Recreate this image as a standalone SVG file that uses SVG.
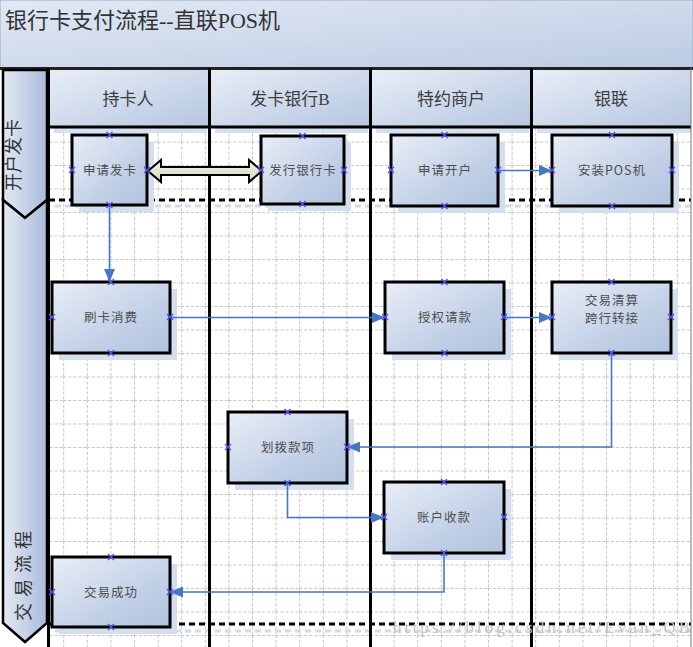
<svg xmlns="http://www.w3.org/2000/svg" xmlns:xlink="http://www.w3.org/1999/xlink" width="693" height="647" viewBox="0 0 693 647">
<defs>
<linearGradient id="titleG" x1="0" y1="0" x2="1" y2="1"><stop offset="0" stop-color="#e2e9f4"/><stop offset="1" stop-color="#bccbe3"/></linearGradient>
<linearGradient id="headG" x1="0" y1="0" x2="1" y2="1"><stop offset="0" stop-color="#e8eef7"/><stop offset="1" stop-color="#b5c6e0"/></linearGradient>
<linearGradient id="bandG" x1="0" y1="0" x2="1" y2="0"><stop offset="0" stop-color="#e2e9f4"/><stop offset="1" stop-color="#aabcdb"/></linearGradient>
<linearGradient id="nodeG" x1="0" y1="0" x2="1" y2="1"><stop offset="0" stop-color="#e9eef7"/><stop offset="0.6" stop-color="#c3d1e7"/><stop offset="1" stop-color="#b0c2de"/></linearGradient>
<linearGradient id="dblG" x1="0" y1="0" x2="0" y2="1"><stop offset="0" stop-color="#eef0e2"/><stop offset="1" stop-color="#d6dbbf"/></linearGradient>
<pattern id="grid" patternUnits="userSpaceOnUse" x="16" y="24" width="23.6" height="23.5">
<path d="M0.5,0 V23.5 M0,0.5 H23.6" stroke="#c4c4c4" stroke-width="1" stroke-dasharray="3,2" fill="none"/>
</pattern>
<marker id="ah" markerUnits="userSpaceOnUse" markerWidth="13" markerHeight="11" refX="13" refY="5.5" orient="auto"><path d="M0,0 L13,5.5 L0,11 z" fill="#4677c2"/></marker>
<path id="xm" d="M-3,-3 L3,3 M-3,3 L3,-3" stroke="#5050f0" stroke-width="1.4" fill="none"/>
<style>
.nb{fill:url(#nodeG);stroke:#000;stroke-width:3}
.sh{fill:#d3deef}
.nt{font-family:"Noto Sans CJK SC","Liberation Serif",sans-serif;font-size:12.5px;fill:#4e4e4e;text-anchor:middle;letter-spacing:1px}
.ht{font-family:"Liberation Serif","Noto Sans CJK SC",serif;font-size:17px;fill:#3c3c3c;text-anchor:middle}
.lane{stroke:#000;stroke-width:3}
.con{fill:none;stroke:#4677c2;stroke-width:1.6}
.dot{stroke:#000;stroke-width:3;stroke-dasharray:6,4}
.dotsh{stroke:#cfdcf0;stroke-width:3;stroke-dasharray:6,4}
.bt{font-family:"Noto Sans CJK SC",sans-serif;font-size:18px;fill:#333;text-anchor:middle}
</style>
</defs>

<rect width="693" height="647" fill="#ffffff"/>

<!-- title -->
<g id="title">
<rect x="0" y="0" width="693" height="68" fill="url(#titleG)" stroke="#9aa9c0" stroke-width="1"/>
<line x1="0" y1="68.5" x2="693" y2="68.5" stroke="#222" stroke-width="3"/>
<text x="5" y="28" font-family="Liberation Serif, 'Noto Sans CJK SC', serif" font-size="22" fill="#333">银行卡支付流程--直联POS机</text>
</g>

<!-- grid area -->
<rect x="49" y="128" width="642" height="519" fill="url(#grid)"/>

<!-- header -->
<g id="headers">
<rect x="54" y="127" width="153" height="6" fill="#d6e0f0"/>
<rect x="215" y="127" width="153" height="6" fill="#d6e0f0"/>
<rect x="376" y="127" width="153" height="6" fill="#d6e0f0"/>
<rect x="537" y="127" width="154" height="6" fill="#d6e0f0"/>
<rect x="49" y="70" width="160" height="57" fill="url(#headG)"/>
<rect x="210" y="70" width="160" height="57" fill="url(#headG)"/>
<rect x="371" y="70" width="160" height="57" fill="url(#headG)"/>
<rect x="532" y="70" width="159" height="57" fill="url(#headG)"/>
<line x1="48" y1="127" x2="691" y2="127" stroke="#000" stroke-width="3"/>
<text class="ht" x="128" y="105">持卡人</text>
<text class="ht" x="290" y="105">发卡银行B</text>
<text class="ht" x="451" y="105">特约商户</text>
<text class="ht" x="611" y="105">银联</text>
</g>

<!-- phase band -->
<g id="phase1">
<polygon points="3,70 47,70 47,200 25,218 3,200" fill="url(#bandG)" stroke="#000" stroke-width="2.5"/>
<text class="bt" transform="translate(14,155) rotate(-90)" y="6">开户发卡</text>
</g>
<g id="phase2">
<polygon points="3,200 25,218 47,200 47,623 25,642 3,623" fill="url(#bandG)" stroke="#000" stroke-width="2.5"/>
<text class="bt" transform="translate(23,573) rotate(-90)" y="7" letter-spacing="6">交易流程</text>
</g>

<!-- dotted separators -->
<g id="separators">
<line class="dotsh" x1="55" y1="206" x2="691" y2="206"/>
<line class="dot" x1="49" y1="200" x2="691" y2="200"/>
<line class="dotsh" x1="55" y1="631" x2="691" y2="631"/>
<line class="dot" x1="49" y1="624" x2="691" y2="624"/>
</g>

<!-- lanes -->
<g id="lanes">
<line class="lane" x1="48.5" y1="68" x2="48.5" y2="647"/>
<line class="lane" x1="209.5" y1="68" x2="209.5" y2="647"/>
<line class="lane" x1="370.5" y1="68" x2="370.5" y2="647"/>
<line class="lane" x1="531.5" y1="68" x2="531.5" y2="647"/>
<line x1="691" y1="68" x2="691" y2="647" stroke="#777" stroke-width="1"/>
</g>

<text x="393" y="633" font-family="Liberation Serif, serif" font-size="17" fill="#c4c4c4" textLength="297" lengthAdjust="spacing">https://blog.csdn.net/Evan_QB</text>

<!-- nodes -->
<g id="n1"><rect class="sh" x="79" y="142" width="75" height="70"/><rect class="nb" x="72" y="135" width="75" height="70"/><text class="nt" x="110" y="175">申请发卡</text></g>
<g id="n2"><rect class="sh" x="268" y="143" width="83" height="68"/><rect class="nb" x="261" y="136" width="83" height="68"/><text class="nt" x="303" y="175">发行银行卡</text></g>
<g id="n3"><rect class="sh" x="398" y="142" width="107" height="71"/><rect class="nb" x="391" y="135" width="107" height="71"/><text class="nt" x="445" y="175">申请开户</text></g>
<g id="n4"><rect class="sh" x="559" y="142" width="120" height="71"/><rect class="nb" x="552" y="135" width="120" height="71"/><text class="nt" x="612" y="175">安装POS机</text></g>
<g id="n5"><rect class="sh" x="59" y="289" width="118" height="71"/><rect class="nb" x="52" y="282" width="118" height="71"/><text class="nt" x="111" y="322">刷卡消费</text></g>
<g id="n6"><rect class="sh" x="392" y="289" width="119" height="71"/><rect class="nb" x="385" y="282" width="119" height="71"/><text class="nt" x="445" y="322">授权请款</text></g>
<g id="n7"><rect class="sh" x="559" y="289" width="119" height="71"/><rect class="nb" x="552" y="282" width="119" height="71"/><text class="nt" x="612" y="305">交易清算</text><text class="nt" x="612" y="323">跨行转接</text></g>
<g id="n8"><rect class="sh" x="235" y="419" width="119" height="71"/><rect class="nb" x="228" y="412" width="119" height="71"/><text class="nt" x="288" y="452">划拨款项</text></g>
<g id="n9"><rect class="sh" x="391" y="489" width="120" height="71"/><rect class="nb" x="384" y="482" width="120" height="71"/><text class="nt" x="444" y="522">账户收款</text></g>
<g id="n10"><rect class="sh" x="59" y="564" width="118" height="70"/><rect class="nb" x="52" y="557" width="118" height="70"/><text class="nt" x="111" y="597">交易成功</text></g>

<!-- connectors -->
<g id="connectors">
<polygon points="148,171 161,160 161,167 249,167 249,160 262,171 249,182 249,175 161,175 161,182" fill="url(#dblG)" stroke="#000" stroke-width="2"/>
<path class="con" d="M498,170.5 H552" marker-end="url(#ah)"/>
<path class="con" d="M109.5,205 V282" marker-end="url(#ah)"/>
<path class="con" d="M170,317.5 H385" marker-end="url(#ah)"/>
<path class="con" d="M504,317.5 H552" marker-end="url(#ah)"/>
<path class="con" d="M611.5,353 V447 H347" marker-end="url(#ah)"/>
<path class="con" d="M287.5,483 V517.5 H384" marker-end="url(#ah)"/>
<path class="con" d="M444,553 V592 H170" marker-end="url(#ah)"/>
</g>

<!-- connection points -->
<g id="points">
<use href="#xm" x="109.5" y="135"/><use href="#xm" x="109.5" y="205"/><use href="#xm" x="72" y="170"/><use href="#xm" x="147" y="170"/>
<use href="#xm" x="302.5" y="136"/><use href="#xm" x="302.5" y="204"/><use href="#xm" x="261" y="170"/><use href="#xm" x="344" y="170"/>
<use href="#xm" x="444.5" y="135"/><use href="#xm" x="444.5" y="206"/><use href="#xm" x="391" y="170"/><use href="#xm" x="498" y="170"/>
<use href="#xm" x="612" y="135"/><use href="#xm" x="612" y="206"/><use href="#xm" x="552" y="170"/><use href="#xm" x="672" y="170"/>
<use href="#xm" x="111" y="282"/><use href="#xm" x="111" y="353"/><use href="#xm" x="52" y="317"/><use href="#xm" x="170" y="317"/>
<use href="#xm" x="444.5" y="282"/><use href="#xm" x="444.5" y="353"/><use href="#xm" x="385" y="317"/><use href="#xm" x="504" y="317"/>
<use href="#xm" x="611.5" y="282"/><use href="#xm" x="611.5" y="353"/><use href="#xm" x="552" y="317"/><use href="#xm" x="671" y="317"/>
<use href="#xm" x="287.5" y="412"/><use href="#xm" x="287.5" y="483"/><use href="#xm" x="228" y="447"/><use href="#xm" x="347" y="447"/>
<use href="#xm" x="444" y="482"/><use href="#xm" x="444" y="553"/><use href="#xm" x="384" y="517"/><use href="#xm" x="504" y="517"/>
<use href="#xm" x="111" y="557"/><use href="#xm" x="111" y="627"/><use href="#xm" x="52" y="592"/><use href="#xm" x="170" y="592"/>
</g>
</svg>
